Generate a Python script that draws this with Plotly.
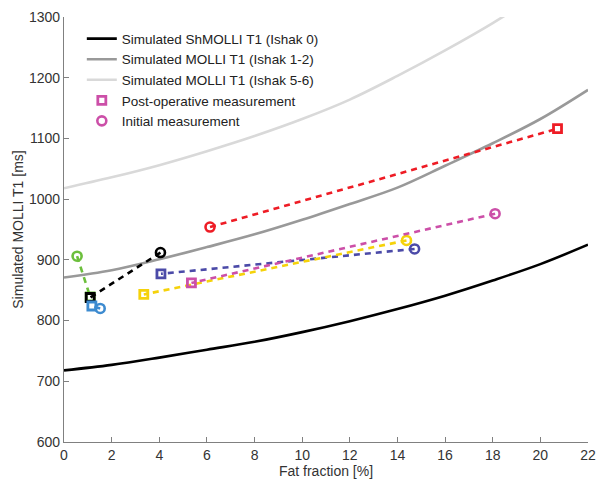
import plotly.graph_objects as go

# Simulated curves
ff_grid = [0, 2, 4, 6, 8, 10, 12, 14, 16, 18, 20, 22]
shmolli_ishak0 = [718, 727, 739, 752, 765, 781, 799, 819, 841, 866, 893, 925]
molli_ishak12 = [871, 883, 901, 921, 942, 966, 992, 1019, 1055, 1092, 1132, 1180]
molli_ishak56 = [1018, 1036, 1056, 1079, 1104, 1132, 1164, 1203, 1245, 1290, 1340, 1395]

# Patients: (initial FF, initial T1) -> (post-op FF, post-op T1)
patient_colors = ["#6cbf3c", "#000000", "#3d8bd0", "#4b4aa8", "#f5d20a", "#cc4fa8", "#ee1c25"]
initial_ff = [0.55, 4.05, 1.52, 14.72, 14.38, 18.1, 6.13]
initial_t1 = [906, 912, 820, 918, 932, 976, 954]
post_ff = [1.1, 1.1, 1.17, 4.07, 3.35, 5.35, 20.72]
post_t1 = [839, 838, 824, 877, 843, 862, 1116]

x_title = "Fat fraction [%]"
y_title = "Simulated MOLLI T1 [ms]"

fig = go.Figure()

curves = [
    ("Simulated ShMOLLI T1 (Ishak 0)", shmolli_ishak0, "#000000"),
    ("Simulated MOLLI T1 (Ishak 1-2)", molli_ishak12, "#999999"),
    ("Simulated MOLLI T1 (Ishak 5-6)", molli_ishak56, "#d9d9d9"),
]
for name, ys, col in curves:
    fig.add_trace(go.Scatter(x=ff_grid, y=ys, mode="lines", name=name,
                             line=dict(color=col, width=2.6, shape="spline"),
                             showlegend=True))

for i, col in enumerate(patient_colors):
    fig.add_trace(go.Scatter(x=[initial_ff[i], post_ff[i]], y=[initial_t1[i], post_t1[i]],
                             mode="lines", line=dict(color=col, width=2.6, dash="6px,5px"),
                             showlegend=False))
    fig.add_trace(go.Scatter(x=[post_ff[i]], y=[post_t1[i]], mode="markers",
                             marker=dict(symbol="square-open", size=8, color=col,
                                         line=dict(width=2.8, color=col)),
                             showlegend=False))
    fig.add_trace(go.Scatter(x=[initial_ff[i]], y=[initial_t1[i]], mode="markers",
                             marker=dict(symbol="circle-open", size=9, color=col,
                                         line=dict(width=2.6, color=col)),
                             showlegend=False))

# Legend-only marker entries
fig.add_trace(go.Scatter(x=[None], y=[None], mode="markers", name="Post-operative measurement",
                         marker=dict(symbol="square-open", size=8, color="#cc4fa8",
                                     line=dict(width=2.8, color="#cc4fa8"))))
fig.add_trace(go.Scatter(x=[None], y=[None], mode="markers", name="Initial measurement",
                         marker=dict(symbol="circle-open", size=9, color="#cc4fa8",
                                     line=dict(width=2.6, color="#cc4fa8"))))

axis_common = dict(showgrid=False, zeroline=False, showline=True, linecolor="#808080",
                   linewidth=1.2, ticks="inside", ticklen=5, tickcolor="#808080",
                   tickfont=dict(family="Liberation Sans, Arial", size=14, color="#333333"),
                   title_font=dict(family="Liberation Sans, Arial", size=14, color="#333333"))

fig.update_layout(
    width=604, height=488,
    margin=dict(l=64, r=8, t=17, b=46),
    paper_bgcolor="white", plot_bgcolor="white",
    font=dict(family="Liberation Sans, Arial", size=14, color="#222222"),
    xaxis=dict(range=[0, 22], dtick=2, title=dict(text=x_title, standoff=0), **axis_common),
    yaxis=dict(range=[600, 1300], dtick=100, title=dict(text=y_title, standoff=2), **axis_common),
    legend=dict(x=0.034, y=0.985, xanchor="left", yanchor="top", bgcolor="rgba(0,0,0,0)",
                font=dict(family="Liberation Sans, Arial", size=13.5, color="#222222"),
                tracegroupgap=0, itemwidth=30),
)

fig.write_html("out.html")
